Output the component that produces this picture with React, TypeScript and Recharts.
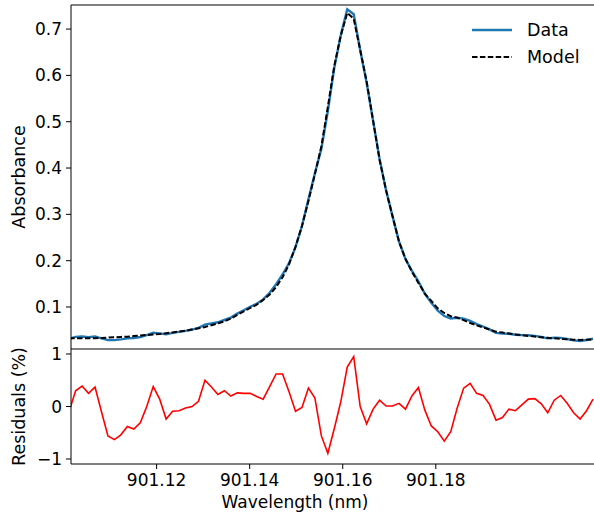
import React from 'react';
import { LineChart, Line, XAxis, YAxis, Legend } from 'recharts';

const wavelength = [
  901.1012, 901.10259, 901.10398, 901.10537, 901.10676, 901.10815, 901.10954, 901.11093, 901.11232, 901.11371,
  901.1151, 901.11649, 901.11788, 901.11927, 901.12066, 901.12205, 901.12344, 901.12483, 901.12622, 901.12761,
  901.129, 901.13039, 901.13178, 901.13317, 901.13456, 901.13595, 901.13734, 901.13873, 901.14012, 901.14151,
  901.1429, 901.14429, 901.14568, 901.14707, 901.14846, 901.14985, 901.15124, 901.15263, 901.15402, 901.15541,
  901.1568, 901.15819, 901.15958, 901.16097, 901.16236, 901.16375, 901.16514, 901.16653, 901.16792, 901.16931,
  901.1707, 901.17209, 901.17348, 901.17487, 901.17626, 901.17765, 901.17904, 901.18043, 901.18182, 901.18321,
  901.1846, 901.18599, 901.18738, 901.18877, 901.19016, 901.19155, 901.19294, 901.19433, 901.19572, 901.19711,
  901.1985, 901.19989, 901.20128, 901.20267, 901.20406, 901.20545, 901.20684, 901.20823, 901.20962, 901.21101,
  901.2124, 901.21379,
];

const absorbanceData = [
  0.0315, 0.0354, 0.0363, 0.0349, 0.0363, 0.0323, 0.0284, 0.0284, 0.03, 0.0322,
  0.0329, 0.0352, 0.0395, 0.0444, 0.0431, 0.041, 0.0441, 0.0462, 0.0484, 0.0513,
  0.055, 0.0618, 0.0643, 0.067, 0.0719, 0.077, 0.0856, 0.093, 0.1005, 0.1069,
  0.1164, 0.1308, 0.1492, 0.1702, 0.1948, 0.2291, 0.2748, 0.3325, 0.3886, 0.4414,
  0.5231, 0.6168, 0.6869, 0.7425, 0.732, 0.655, 0.5837, 0.5015, 0.4192, 0.3521,
  0.2961, 0.2416, 0.2035, 0.178, 0.1556, 0.1283, 0.1093, 0.0922, 0.0804, 0.0752,
  0.0767, 0.075, 0.0699, 0.0629, 0.0579, 0.0516, 0.0441, 0.0426, 0.0422, 0.04,
  0.0393, 0.039, 0.0377, 0.0352, 0.0322, 0.0335, 0.0334, 0.0308, 0.028, 0.0266,
  0.0287, 0.0314,
];

const absorbanceModel = [
  0.0324, 0.0324, 0.0324, 0.0324, 0.0326, 0.0333, 0.034, 0.0347, 0.0354, 0.036,
  0.0372, 0.0383, 0.0395, 0.0406, 0.0417, 0.0434, 0.045, 0.047, 0.0487, 0.0513,
  0.054, 0.0568, 0.0606, 0.0647, 0.0689, 0.075, 0.083, 0.0905, 0.098, 0.105,
  0.115, 0.127, 0.143, 0.164, 0.192, 0.23, 0.275, 0.329, 0.387, 0.447,
  0.532, 0.621, 0.686, 0.735, 0.7225, 0.655, 0.587, 0.502, 0.418, 0.352,
  0.296, 0.241, 0.204, 0.176, 0.152, 0.129, 0.113, 0.097, 0.087, 0.08,
  0.077, 0.0715, 0.0655, 0.0604, 0.0558, 0.0512, 0.0467, 0.0447, 0.0427, 0.0408,
  0.039, 0.0376, 0.0362, 0.0347, 0.0334, 0.0323, 0.0313, 0.0302, 0.0292, 0.029,
  0.0295, 0.03,
];

const residualsPct = [
  -0.09, 0.3, 0.39, 0.25, 0.37, -0.1, -0.56, -0.63, -0.54, -0.38,
  -0.43, -0.31, 0.0, 0.38, 0.14, -0.24, -0.09, -0.08, -0.03, 0.0,
  0.1, 0.5, 0.37, 0.23, 0.3, 0.2, 0.26, 0.25, 0.25, 0.19,
  0.14, 0.38, 0.62, 0.62, 0.28, -0.09, -0.02, 0.35, 0.16, -0.56,
  -0.89, -0.42, 0.09, 0.75, 0.95, 0.0, -0.33, -0.05, 0.12, 0.01,
  0.01, 0.06, -0.05, 0.2, 0.36, -0.07, -0.37, -0.48, -0.66, -0.48,
  -0.03, 0.35, 0.44, 0.25, 0.21, 0.04, -0.26, -0.21, -0.05, -0.08,
  0.03, 0.14, 0.15, 0.05, -0.12, 0.12, 0.21, 0.06, -0.12, -0.24,
  -0.08, 0.14,
];

const xTicks = [901.12, 901.14, 901.16, 901.18];
const absTicks = [0.1, 0.2, 0.3, 0.4, 0.5, 0.6, 0.7];
const resTicks = [-1, 0, 1];

const X_DOMAIN: [number, number] = [901.1016, 901.214];
const ABS_DOMAIN: [number, number] = [0.0093, 0.752];
const RES_DOMAIN: [number, number] = [-1.095, 1.095];

const rows = wavelength.map((w, i) => ({
  w,
  data: absorbanceData[i],
  model: absorbanceModel[i],
  res: residualsPct[i],
}));

const FONT = '"DejaVu Sans", sans-serif';
const FS = 17;
const TITLE_FS = 17.5;
const tickStyle = { fontSize: FS, fill: '#000', fontFamily: FONT };
const AXIS = { stroke: '#000', strokeWidth: 1 };

const YTitle = (props: any) => {
  const vb = props.viewBox || {};
  const cy = (vb.y ?? 0) + (vb.height ?? 0) / 2;
  const x = 25;
  return (
    <text x={x} y={cy} transform={`rotate(-90 ${x} ${cy})`} textAnchor="middle"
      fontSize={TITLE_FS} fontFamily={FONT} fill="#000">{props.text}</text>
  );
};

const XTitle = (props: any) => {
  const vb = props.viewBox || {};
  const y = (vb.y ?? 0) + 43.5;
  return (
    <text x={295} y={y} textAnchor="middle" fontSize={FS} fontFamily={FONT} fill="#000">{props.text}</text>
  );
};

const LegendContent = (props: any) => {
  const payload = props.payload || [];
  return (
    <div style={{ fontFamily: FONT, fontSize: TITLE_FS, color: '#000' }}>
      {payload.map((p: any) => (
        <div key={p.value} style={{ display: 'flex', alignItems: 'center', height: 27 }}>
          <svg width={40} height={10} style={{ display: 'block' }}>
            <line x1={0} y1={5} x2={40} y2={5} stroke={p.color}
              strokeWidth={p.payload?.strokeWidth ?? 2}
              strokeDasharray={p.payload?.strokeDasharray} />
          </svg>
          <span style={{ marginLeft: 15, lineHeight: '27px' }}>{p.value}</span>
        </div>
      ))}
    </div>
  );
};

const fmtRes = (v: number) => (v < 0 ? '\u2212' + Math.abs(v) : String(v));

export default function App() {
  return (
    <div style={{ position: 'absolute', left: 0, top: 0, width: 594, height: 514, background: '#fff', overflow: 'hidden' }}>
      <div style={{ position: 'absolute', left: 0, top: 0 }}>
        <LineChart width={594} height={350} data={rows} margin={{ top: 4, right: 0, bottom: 1, left: 0 }}>
          <XAxis dataKey="w" type="number" domain={X_DOMAIN} allowDataOverflow hide />
          <XAxis xAxisId="top" orientation="top" dataKey="w" type="number" domain={X_DOMAIN}
            allowDataOverflow height={1} tick={false} tickLine={false} axisLine={AXIS} />
          <YAxis type="number" domain={ABS_DOMAIN} allowDataOverflow ticks={absTicks} interval={0}
            width={71} tickSize={5} tickMargin={4} tickLine={AXIS} axisLine={AXIS} tick={tickStyle}
            tickFormatter={(v: number) => v.toFixed(1)} label={<YTitle text="Absorbance" />} />
          <Line dataKey="data" name="Data" stroke="#1f77b4" strokeWidth={2.4} dot={false}
            activeDot={false} isAnimationActive={false} />
          <Line dataKey="model" name="Model" stroke="#000" strokeWidth={2} strokeDasharray="5.5 2.4"
            dot={false} activeDot={false} isAnimationActive={false} />
          <Legend layout="vertical" align="center" verticalAlign="middle"
            wrapperStyle={{ top: 16.5, left: 472, width: 'auto' }} content={<LegendContent />} />
        </LineChart>
      </div>
      <div style={{ position: 'absolute', left: 0, top: 344 }}>
        <LineChart width={594} height={170} data={rows} margin={{ top: 4, right: 0, bottom: 0, left: 0 }}>
          <XAxis dataKey="w" type="number" domain={X_DOMAIN} allowDataOverflow ticks={xTicks} interval={0}
            height={50} tickSize={5} tickMargin={5} tickLine={AXIS} axisLine={AXIS} tick={tickStyle}
            tickFormatter={(v: number) => v.toFixed(2)} label={<XTitle text="Wavelength (nm)" />} />
          <XAxis xAxisId="top" orientation="top" dataKey="w" type="number" domain={X_DOMAIN}
            allowDataOverflow height={1} tick={false} tickLine={false} axisLine={AXIS} />
          <YAxis type="number" domain={RES_DOMAIN} allowDataOverflow ticks={resTicks} interval={0}
            width={71} tickSize={5} tickMargin={4} tickLine={AXIS} axisLine={AXIS} tick={tickStyle}
            tickFormatter={fmtRes} label={<YTitle text="Residuals (%)" />} />
          <Line dataKey="res" name="Residuals" stroke="#ff0000" strokeWidth={1.6} dot={false}
            activeDot={false} isAnimationActive={false} />
        </LineChart>
      </div>
    </div>
  );
}
